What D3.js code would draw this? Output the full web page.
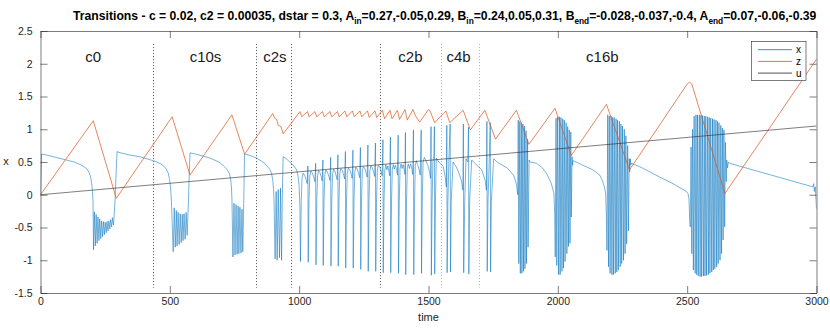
<!DOCTYPE html>
<html><head><meta charset="utf-8">
<script src="https://cdn.jsdelivr.net/npm/d3@7"></script>
<style>body{margin:0;background:#fff}svg{display:block}</style>
</head><body><svg id="c" width="830" height="332"></svg>
<script>
// ---------- data ----------
const xTickVals = [0,500,1000,1500,2000,2500,3000];
const yTickVals = [-1.5,-1,-0.5,0,0.5,1,1.5,2,2.5];
const seriesNames = ["x","z","u"];
const transitionT = [436,835,969,1313,1547,1696];
const regionLabels = ["c0","c10s","c2s","c2b","c4b","c16b"];
const regionLabelT = [204,638,906,1430,1616,2172];
const regionLabelY = 2.1;

const uData = [[0,0],[3000,1.05]];

const zData = [[0,0],[204,1.13],[293,-0.055],[509,1.19],[578,0.30],[740,1.22],[789,0.62],[898,1.24],[905,1.17],[913,1.15],[919,1.06],[930,1.04],[938,0.93],[969,1.09],[1003,1.27],
[1010,1.19],[1032,1.27],[1039,1.19],[1061,1.27],[1068,1.19],[1090,1.27],[1097,1.19],[1119,1.27],[1126,1.19],[1148,1.27],[1155,1.19],[1177,1.28],[1184,1.19],[1206,1.28],[1213,1.19],[1235,1.28],[1242,1.19],[1264,1.28],[1271,1.18],[1293,1.28],[1300,1.18],[1322,1.29],[1330,1.16],[1351,1.29],[1359,1.16],[1380,1.29],[1388,1.15],[1409,1.30],[1418,1.14],[1440,1.30],[1450,1.20],[1466,1.11],[1500,1.30],[1505,1.29],[1524,1.10],[1567,1.28],[1582,1.10],[1634,1.29],[1662,0.99],[1718,1.29],[1759,0.85],[1840,1.29],[1888,0.77],[1989,1.32],[2052,0.60],[2188,1.38],[2277,0.38],[2500,1.69],[2510,1.72],[2518,1.69],[2646,0.02],[3000,2.07]];

const xPart1 = [[0,0],[4,0.62],[20,0.61],[60,0.57],[100,0.53],[130,0.50],[160,0.45],[178,0.40],[188,0.34],[194,0.27],[198,0.17],[201,0.05],[203,-0.10],
[205,-0.84],[208,-0.26],[212,-0.78],[215,-0.30],[219,-0.74],[222,-0.34],[226,-0.70],[229,-0.37],[233,-0.67],[236,-0.40],[240,-0.64],[243,-0.41],[247,-0.61],[250,-0.42],[254,-0.58],[257,-0.41],[261,-0.55],[264,-0.40],[268,-0.52],[271,-0.38],[275,-0.49],[278,-0.35],[282,-0.46],[285,-0.30],
[288,-0.1],[292,0.3],[296,0.66],[300,0.65],[340,0.61],[384,0.58],[420,0.54],[450,0.50],[470,0.46],[485,0.40],[494,0.33],[499,0.23],[503,0.10],[506,-0.08],
[513,-0.87],[517,-0.20],[521,-0.80],[525,-0.24],[528,-0.78],[532,-0.27],[536,-0.76],[540,-0.29],[544,-0.73],[548,-0.30],[551,-0.70],[555,-0.29],[559,-0.68],[563,-0.27],[567,-0.62],
[571,-0.2],[575,0.3],[578,0.64],[600,0.62],[655,0.56],[690,0.50],[706,0.45],[720,0.39],[730,0.33],[735,0.24],[738,0.12],[740,-0.05],
[744,-0.95],[748,-0.13],[752,-0.92],[756,-0.15],[760,-0.91],[764,-0.17],[767,-0.90],[771,-0.19],[775,-0.89],[779,-0.22],[782,-0.87],
[785,-0.3],[787,0.2],[789,0.62],[810,0.60],[835,0.56],[860,0.50],[874,0.45],[886,0.39],[893,0.33],[898,0.22],[901,0.08],[903,-0.1],
[907,-0.98],[911,0.05],[915,-1.0],[919,0.08],[924,-0.96],[928,0.1],[932,-1.0],
[935,0.0],[938,0.58],[950,0.55],[964,0.50],[980,0.44],[990,0.38],[996,0.28],[1000,0.12],[1003,-0.2]];

const xPart2 = [[1005,-1.02],[1008,-0.1],[1011,0.25],[1015,0.33],[1021,0.30],[1027,0.23],[1031,0.17],[1033.8,0.44],[1035,-1.03],
[1038,-0.1],[1041,0.28],[1045,0.36],[1051,0.33],[1057,0.26],[1061,0.20],[1063.8,0.48],[1065,-1.07],
[1068,-0.1],[1071,0.29],[1075,0.37],[1080,0.34],[1086,0.27],[1089,0.21],[1091.8,0.53],[1093,-1.08],
[1096,-0.1],[1099,0.30],[1103,0.38],[1109,0.35],[1115,0.28],[1119,0.22],[1121.8,0.57],[1123,-1.09],
[1126,-0.1],[1129,0.31],[1133,0.39],[1138,0.36],[1143,0.29],[1147,0.23],[1149.8,0.61],[1151,-1.09],
[1154,-0.1],[1157,0.32],[1161,0.40],[1167,0.37],[1172,0.30],[1176,0.24],[1178.8,0.66],[1180,-1.12],
[1183,-0.1],[1186,0.33],[1190,0.41],[1196,0.38],[1201,0.31],[1205,0.25],[1207.8,0.68],[1209,-1.12],
[1212,-0.1],[1215,0.34],[1219,0.42],[1225,0.39],[1230,0.32],[1234,0.26],[1236.8,0.72],[1238,-1.14],
[1241,-0.1],[1244,0.35],[1248,0.43],[1254,0.40],[1259,0.33],[1263,0.27],[1265.8,0.76],[1267,-1.17],
[1270,-0.1],[1273,0.36],[1277,0.44],[1283,0.41],[1288,0.34],[1292,0.28],[1294.8,0.79],[1296,-1.17],
[1299,-0.1],[1302,0.37],[1306,0.45],[1312,0.42],[1317,0.35],[1321,0.29],[1323.8,0.84],[1325,-1.19],
[1328,-0.1],[1331,0.38],[1335,0.46],[1339,0.38],[1343,0.44],[1347,0.36],[1350,0.29],[1352.8,0.88],[1354,-1.19],
[1357,-0.1],[1360,0.39],[1364,0.46],[1368,0.39],[1372,0.45],[1377,0.37],[1380,0.30],[1382.8,0.91],[1384,-1.20],
[1387,-0.1],[1390,0.40],[1394,0.47],[1398,0.40],[1402,0.46],[1406,0.38],[1409,0.31],[1410.8,0.95],[1412,-1.22],
[1415,-0.1],[1418,0.41],[1422,0.47],[1426,0.40],[1431,0.47],[1436,0.39],[1439,0.31],[1441.8,0.99],[1443,-1.22]];

const xPart3 = [[1446,-0.1],[1449,0.45],[1453,0.52],[1458,0.46],[1464,0.38],[1468,0.30],[1471.8,0.99],[1473,-1.20],
[1476,-0.1],[1479,0.50],[1484,0.57],[1490,0.52],[1498,0.44],[1504,0.35],[1508,0.25],[1509.8,1.04],[1511,-1.23],
[1514,-0.1],[1517,0.5],[1521,0.6],[1522.8,1.04],[1524,-1.21],
[1527,-0.1],[1530,0.56],[1540,0.50],[1556,0.44],[1565,0.27],[1569,0.12],[1570.8,1.06],[1572,-1.19],[1575,-0.1],[1579,0.55],[1583.8,1.08],[1585,-1.18],
[1588,-0.1],[1595,0.50],[1605,0.44],[1614,0.37],[1627,0.22],[1633,0.07],[1634.8,1.08],[1636,-1.19],[1640,-0.1],[1645,0.55],[1652,0.5],[1654.8,1.03],[1656,-1.21],
[1659,-0.1],[1667,0.53],[1687,0.45],[1706,0.38],[1719,0.22],[1724,0.07],[1725.8,1.12],[1727,-1.17],[1730,-0.1],[1735,0.55],[1738.8,1.10],[1740,-1.18],
[1743,-0.1],[1752,0.55],[1765,0.50],[1804,0.41],[1830,0.29],[1840,0.16],[1845,0.0],
[1847,1.14],[1849,-1.05],[1853,1.12],[1855,-1.20],[1859,1.10],[1861,-1.20],[1865,1.08],[1867,-1.17],[1871,1.05],[1873,-1.13],[1877,0.98],[1879,-1.05],[1883,0.85],[1885,-0.8],[1889,0.53],
[1892,0.50],[1918,0.48],[1940,0.41],[1956,0.33],[1975,0.17],[1985,0.02],[1988,-0.3]];

const xPart4 = [[1990,-0.95],[1993,1.17],[1996,-1.08],[1999,1.19],[2003,-1.22],[2006,1.19],[2009,-1.22],[2012,1.18],[2016,-1.17],[2019,1.16],[2022,-1.12],[2025,1.14],[2028,-1.02],[2032,1.10],[2035,-0.90],[2038,1.04],[2041,-0.79],[2044,0.99],[2047,-0.74],[2050,0.96],[2052,-0.34],[2055,0.58],[2057,0.45],[2059,0.52],
[2097,0.45],[2136,0.38],[2162,0.30],[2172,0.22],[2180,0.12],[2185,0.02],[2188,-0.39],
[2190,-0.85],[2193,1.22],[2196,-1.10],[2199,1.20],[2202,-1.20],[2206,1.20],[2209,-1.22],[2212,1.18],[2215,-1.22],[2218,1.18],[2222,-1.20],[2225,1.16],[2228,-1.18],[2231,1.14],[2234,-1.15],[2238,1.12],[2241,-1.10],[2244,1.08],[2247,-1.05],[2250,1.05],[2254,-1.00],[2257,1.00],[2260,-0.90],[2263,0.90],[2266,-0.75],[2270,0.75],[2273,-0.55],[2276,0.55],[2278,0.35],[2280,0.55],[2282,0.45],
[2284,0.48],[2316,0.43],[2355,0.35],[2394,0.27],[2445,0.17],[2484,0.08],[2497,0.05],[2503,0.02],[2507,-0.06],[2510,-0.4],
[2512,-0.49],[2515,0.73],[2518,-0.90],[2521,1.00],[2524,-1.15],[2527,1.20],[2531,-1.20],[2534,1.22],[2537,-1.22],[2540,1.22],[2543,-1.24],[2547,1.22],[2550,-1.25],[2553,1.21],[2556,-1.25],[2559,1.21],[2563,-1.24],[2566,1.20],[2569,-1.24],[2572,1.20],[2575,-1.23],[2579,1.19],[2582,-1.22],[2585,1.18],[2588,-1.20],[2591,1.17],[2595,-1.18],[2598,1.16],[2601,-1.15],[2604,1.15],[2607,-1.13],[2611,1.14],[2614,-1.10],[2617,1.12],[2620,-1.05],[2623,1.10],[2627,-1.00],[2630,1.06],[2633,-0.90],[2636,1.02],[2639,-0.69],[2642,0.99],[2645,-0.49],[2648,0.80],[2651,0.20],[2653,0.53],[2656,0.41],[2659,0.50],
[2664,0.48],[2986,0.12],[2989,0.17],[2992,0.05],[2995,0.12],[3000,-0.21]];

const xData = xPart1.concat(xPart2, xPart3, xPart4);

// ---------- layout ----------
const W = 830, H = 332;
const L = 40.5, R = 816.5, T = 31, B = 293;
const svg = d3.select("#c");
const xs = d3.scaleLinear().domain([0,3000]).range([L,R]);
const ys = d3.scaleLinear().domain([-1.5,2.5]).range([B,T]);
const axisCol = "#262626";
const font = "'Liberation Sans', Arial, Helvetica, sans-serif";

svg.append("rect").attr("width",W).attr("height",H).attr("fill","#fff");
svg.append("defs").append("clipPath").attr("id","clip").append("rect")
  .attr("x",L).attr("y",T).attr("width",R-L).attr("height",B-T);

// transitions (dotted)
svg.append("g").selectAll("line").data(transitionT).join("line")
  .attr("x1",d=>Math.round(xs(d))+0.5).attr("x2",d=>Math.round(xs(d))+0.5)
  .attr("y1",ys(2.3)).attr("y2",ys(-1.42))
  .attr("stroke",(d,i)=> i>=4 ? "#9a9a9a" : "#262626")
  .attr("stroke-width",0.8).attr("stroke-dasharray","1,2");

// region labels
svg.append("g").selectAll("text").data(regionLabels).join("text")
  .attr("x",(d,i)=>xs(regionLabelT[i])).attr("y",ys(regionLabelY)+5)
  .attr("text-anchor","middle").attr("font-family",font).attr("font-size",15)
  .attr("fill","#1a1a1a").text(d=>d);

// lines
const line = d3.line().x(d=>xs(d[0])).y(d=>ys(d[1]));
const g = svg.append("g").attr("clip-path","url(#clip)");
const colors = {x:"#0072BD", z:"#D95319", u:"#262626"};
g.append("path").attr("d",line(xData)).attr("fill","none").attr("stroke",colors.x).attr("stroke-width",0.6).attr("stroke-opacity",0.9).attr("stroke-linejoin","round");
g.append("path").attr("d",line(zData)).attr("fill","none").attr("stroke",colors.z).attr("stroke-width",0.7);
g.append("path").attr("d",line(uData)).attr("fill","none").attr("stroke",colors.u).attr("stroke-width",0.6);

// axes
function styleAxis(sel){
  sel.select(".domain").attr("stroke",axisCol).attr("stroke-width",0.6);
  sel.selectAll(".tick line").attr("stroke",axisCol).attr("stroke-width",0.6);
  sel.selectAll("text").attr("font-family",font).attr("font-size",10.5).attr("fill",axisCol);
}
const fmt = d=>String(d);
svg.append("g").attr("transform",`translate(0,${B})`)
  .call(d3.axisBottom(xs).tickValues(xTickVals).tickFormat(fmt).tickSize(-7).tickSizeOuter(0).tickPadding(5))
  .call(styleAxis);
svg.append("g").attr("transform",`translate(0,${T})`)
  .call(d3.axisTop(xs).tickValues(xTickVals).tickFormat("").tickSize(-7).tickSizeOuter(0))
  .call(styleAxis);
svg.append("g").attr("transform",`translate(${L},0)`)
  .call(d3.axisLeft(ys).tickValues(yTickVals).tickFormat(fmt).tickSize(-7).tickSizeOuter(0).tickPadding(8))
  .call(styleAxis);
svg.append("g").attr("transform",`translate(${R},0)`)
  .call(d3.axisRight(ys).tickValues(yTickVals).tickFormat("").tickSize(-7).tickSizeOuter(0))
  .call(styleAxis);

// axis labels
svg.append("text").attr("x",(L+R)/2).attr("y",321).attr("text-anchor","middle")
  .attr("font-family",font).attr("font-size",11).attr("fill",axisCol).text("time");
svg.append("text").attr("x",6).attr("y",ys(0.5)+3).attr("text-anchor","middle")
  .attr("font-family",font).attr("font-size",11).attr("fill",axisCol).text("x");

// title
const titleParts = [["Transitions - c = 0.02, c2 = 0.00035, dstar = 0.3, A",0],["in",1],["=0.27,-0.05,0.29, B",0],["in",1],["=0.24,0.05,0.31, B",0],["end",1],["=-0.028,-0.037,-0.4, A",0],["end",1],["=0.07,-0.06,-0.39",0]];
const title = svg.append("text").attr("x",0).attr("y",0)
  .attr("font-family",font).attr("font-weight","bold").attr("font-size",12.5).attr("fill","#000");
titleParts.forEach((p,i)=>{
  const ts = title.append("tspan").text(p[0]);
  if(p[1]) ts.attr("font-size",8.5).attr("dy",3.5);
  else if(i>0) ts.attr("dy",-3.5);
});
const tw = title.node().getComputedTextLength();
title.attr("transform",`translate(73,20) scale(${744/tw},1)`);

// legend
const lg = svg.append("g");
lg.append("rect").attr("x",751.5).attr("y",41.5).attr("width",54.5).attr("height",39)
  .attr("fill","#fff").attr("stroke",axisCol).attr("stroke-width",0.6);
seriesNames.forEach((n,i)=>{
  const yy = 49.7 + i*11.7;
  lg.append("line").attr("x1",758).attr("x2",792).attr("y1",yy).attr("y2",yy)
    .attr("stroke",colors[n]).attr("stroke-width",0.8);
  lg.append("text").attr("x",796).attr("y",yy+3.5).attr("font-family",font)
    .attr("font-size",10).attr("fill","#000").text(n);
});
</script></body></html>
